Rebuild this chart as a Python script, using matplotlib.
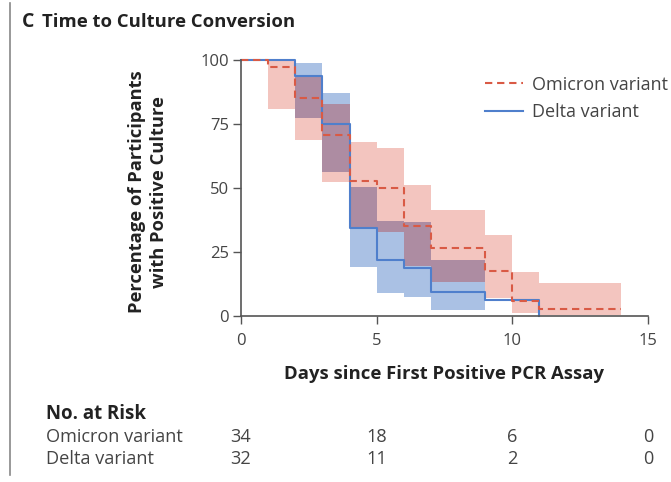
import matplotlib
matplotlib.use("Agg")
import numpy as np
import matplotlib.pyplot as plt
from matplotlib.lines import Line2D

plt.rcParams['font.family'] = ['Open Sans', 'DejaVu Sans']

# Kaplan-Meier style steps (percent still culture positive)
omicron_t = [0, 1, 2, 3, 4, 5, 6, 7, 9, 10, 11, 14]
omicron_s = [100, 97.1, 85.3, 70.6, 52.9, 50.0, 35.3, 26.5, 17.6, 5.9, 2.9, 2.9]
omicron_lo = [100, 81, 68.7, 52.5, 34.5, 33, 19.5, 13.4, 7, 1, 0.3, 0.3]
omicron_hi = [100, 99.5, 93.5, 83, 68, 65.5, 51.2, 41.4, 31.6, 17, 12.8, 12.8]

delta_t = [0, 2, 3, 4, 5, 6, 7, 9, 11]
delta_s = [100, 93.8, 75, 34.4, 21.9, 18.8, 9.4, 6.3, 0]
delta_lo = [100, 77.2, 56.4, 19.3, 9, 7.5, 2.3, 6.3, 0]
delta_hi = [100, 98.7, 87, 50.5, 37, 36.8, 21.9, 6.3, 0]

risk_days = [0, 5, 10, 15]
risk_omicron = [34, 18, 6, 0]
risk_delta = [32, 11, 2, 0]

red = '#d95a45'
blue = '#4f7fcc'
pink = '#f3c5bf'
lightblue = '#aac1e4'
mauve = '#ad8ca2'
gray = '#555555'

fig = plt.figure(figsize=(6.71, 4.82), dpi=100)
ax = fig.add_axes([241/671, 1 - 316/482, 407/671, 256/482])

# overlap of the two confidence bands on a common time grid
grid = np.array(sorted(set(omicron_t) | set(delta_t)))
io = np.clip(np.searchsorted(omicron_t, grid, side='right') - 1, 0, len(omicron_t) - 1)
idl = np.clip(np.searchsorted(delta_t, grid, side='right') - 1, 0, len(delta_t) - 1)
ov_lo = np.maximum(np.array(omicron_lo)[io], np.array(delta_lo)[idl])
ov_hi = np.minimum(np.array(omicron_hi)[io], np.array(delta_hi)[idl])
ov_hi = np.maximum(ov_hi, ov_lo)

ax.fill_between(omicron_t, omicron_lo, omicron_hi, step='post',
                color=pink, linewidth=0)
ax.fill_between(delta_t, delta_lo, delta_hi, step='post',
                color=lightblue, linewidth=0)
ax.fill_between(grid, ov_lo, ov_hi, step='post', color=mauve, linewidth=0)
ax.step(delta_t, delta_s, where='post', color=blue, lw=1.5, clip_on=False)
ax.step(omicron_t, omicron_s, where='post', color=red, lw=1.5,
        dashes=(3.5, 2.3), clip_on=False)

ax.set_xlim(0, 15)
ax.set_ylim(0, 100)
ax.set_xticks([0, 5, 10, 15])
ax.set_yticks([0, 25, 50, 75, 100])
for s in ['top', 'right']:
    ax.spines[s].set_visible(False)
for s in ['left', 'bottom']:
    ax.spines[s].set_color(gray)
    ax.spines[s].set_linewidth(1.2)
ax.tick_params(colors=gray, labelcolor='#444444', length=6, width=1,
               labelsize=12)
ax.tick_params(axis='y', pad=2.5)
ax.tick_params(axis='x', pad=6.5)

fig.text(444/671, 1 - 374/482, 'Days since First Positive PCR Assay',
         fontsize=13.3, fontweight='bold', color='#222222',
         ha='center', va='center')
fig.text(148/671, 1 - 192/482, 'Percentage of Participants\nwith Positive Culture',
         fontsize=13.2, fontweight='bold', color='#222222', rotation=90,
         ha='center', va='center', multialignment='center', linespacing=1.3)

handles = [Line2D([], [], color=red, lw=1.5, dashes=(3.5, 2.3)),
           Line2D([], [], color=blue, lw=1.5)]
leg = ax.legend(handles, ['Omicron variant', 'Delta variant'],
                loc='upper left', bbox_to_anchor=(485/671, 1 - 75.5/482),
                bbox_transform=fig.transFigure, frameon=False,
                fontsize=13, handlelength=2.1, handletextpad=0.5,
                labelspacing=0.55, borderpad=0, borderaxespad=0)
for t in leg.get_texts():
    t.set_color('#444444')

# panel title and left rule
fig.text(22/671, 1 - 22/482, 'C', fontsize=14, fontweight='bold',
         color='#222222', va='center')
fig.text(42/671, 1 - 22/482, 'Time to Culture Conversion', fontsize=13.3,
         fontweight='bold', color='#222222', va='center')
fig.add_artist(Line2D([10/671, 10/671], [1 - 3/482, 1 - 475/482],
                      color='#888888', lw=1.2))

# number at risk table
fig.text(46/671, 1 - 414/482, 'No. at Risk', fontsize=13.4, fontweight='bold',
         color='#222222', va='center')
for row, (name, vals) in enumerate([('Omicron variant', risk_omicron),
                                    ('Delta variant', risk_delta)]):
    y = 1 - (437 + row * 22) / 482
    fig.text(46/671, y, name, fontsize=13.1, color='#444444', va='center')
    for d, v in zip(risk_days, vals):
        xf = fig.transFigure.inverted().transform(ax.transData.transform((d, 0)))[0]
        fig.text(xf, y, str(v), fontsize=13.1, color='#444444',
                 va='center', ha='center')

fig.savefig('out.png', dpi=100)
